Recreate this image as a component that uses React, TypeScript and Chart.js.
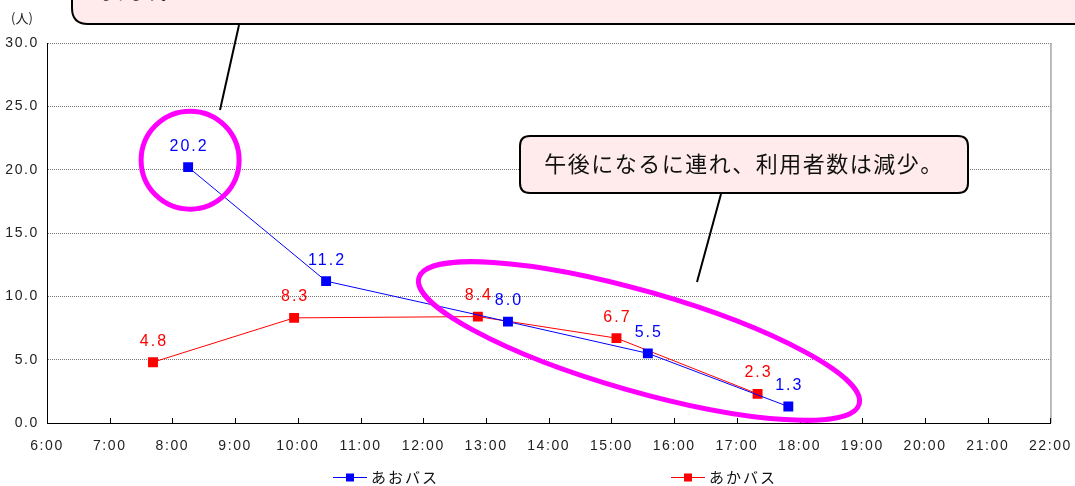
import React, { useEffect, useRef } from "react";
import { Chart, registerables } from "chart.js";

Chart.register(...registerables);

const seriesNames = ["あおバス", "あかバス"];
const blueTimes = [8.25, 10.45, 13.35, 15.58, 17.82];
const blueValues = [20.2, 11.2, 8.0, 5.5, 1.3];
const redTimes = [7.69, 9.94, 12.87, 15.08, 17.33];
const redValues = [4.8, 8.3, 8.4, 6.7, 2.3];
const yTickValues = [0, 5, 10, 15, 20, 25, 30];
const yUnitLabel = "(人)";
const calloutTop = "なります。";
const calloutBottom = "午後になるに連れ、利用者数は減少。";

const BLUE = "#0000FF";
const RED = "#FF0000";
const MAGENTA = "#FF00FF";
const PINK = "#FFEBEB";
const FONT = "'Liberation Sans', Arial, sans-serif";
const JFONT = "'Noto Sans CJK JP', 'Noto Sans', sans-serif";

function roundRect(ctx: CanvasRenderingContext2D, x: number, y: number, w: number, h: number, r: number) {
  ctx.beginPath();
  ctx.moveTo(x + r, y);
  ctx.lineTo(x + w - r, y);
  ctx.quadraticCurveTo(x + w, y, x + w, y + r);
  ctx.lineTo(x + w, y + h - r);
  ctx.quadraticCurveTo(x + w, y + h, x + w - r, y + h);
  ctx.lineTo(x + r, y + h);
  ctx.quadraticCurveTo(x, y + h, x, y + h - r);
  ctx.lineTo(x, y + r);
  ctx.quadraticCurveTo(x, y, x + r, y);
  ctx.closePath();
}

const spacingPlugin = {
  id: "spacing",
  beforeDraw(chart: any) {
    (chart.ctx as any).letterSpacing = "1.6px";
  },
};

const decorPlugin = {
  id: "decor",
  beforeDatasetsDraw(chart: any) {
    const { ctx, chartArea, scales } = chart;
    ctx.save();
    ctx.strokeStyle = "#777";
    ctx.lineWidth = 1;
    ctx.beginPath();
    ctx.moveTo(chartArea.right + 0.5, chartArea.top);
    ctx.lineTo(chartArea.right + 0.5, chartArea.bottom);
    ctx.stroke();
    ctx.strokeStyle = "#000";
    const xs = scales.x;
    for (let h = 6; h <= 22; h++) {
      const px = Math.round(xs.getPixelForValue(h)) + 0.5;
      ctx.beginPath();
      ctx.moveTo(px, chartArea.bottom);
      ctx.lineTo(px, chartArea.bottom - 5);
      ctx.stroke();
    }
    ctx.restore();
  },
  afterDatasetsDraw(chart: any) {
    const { ctx } = chart;
    ctx.save();
    (ctx as any).letterSpacing = "2px";
    chart.data.datasets.forEach((ds: any, i: number) => {
      const meta = chart.getDatasetMeta(i);
      ctx.fillStyle = ds.borderColor;
      ctx.font = `16px ${FONT}`;
      ctx.textAlign = "center";
      ctx.textBaseline = "middle";
      meta.data.forEach((pt: any, j: number) => {
        ctx.fillText(ds.data[j].y.toFixed(1), pt.x + 1, pt.y - 21);
      });
    });

    ctx.font = `15px ${JFONT}`;
    ctx.textAlign = "left";
    ctx.textBaseline = "middle";
    (ctx as any).letterSpacing = "2px";
    const legendX = [333, 671];
    const ly = 477;
    chart.data.datasets.forEach((ds: any, i: number) => {
      const lx = legendX[i];
      ctx.strokeStyle = ds.borderColor;
      ctx.lineWidth = 1;
      ctx.beginPath();
      ctx.moveTo(lx, ly + 0.5);
      ctx.lineTo(lx + 34, ly + 0.5);
      ctx.stroke();
      ctx.fillStyle = ds.borderColor;
      ctx.fillRect(lx + 13, ly - 3.5, 8, 8);
      ctx.fillStyle = "#111";
      ctx.fillText(ds.label, lx + 38, ly);
    });

    (ctx as any).letterSpacing = "0px";
    ctx.font = `13px ${JFONT}`;
    ctx.textAlign = "center";
    ctx.fillStyle = "#222";
    ctx.fillText(yUnitLabel, 22, 18);

    const blueMeta = chart.getDatasetMeta(0);
    const p0 = blueMeta.data[0];
    ctx.strokeStyle = MAGENTA;
    ctx.lineWidth = 5;
    ctx.beginPath();
    ctx.arc(p0.x + 2, p0.y - 7, 49, 0, Math.PI * 2);
    ctx.stroke();

    ctx.beginPath();
    ctx.ellipse(639, 341, 229, 50, (16 * Math.PI) / 180, 0, Math.PI * 2);
    ctx.stroke();

    ctx.lineWidth = 2;
    ctx.strokeStyle = "#000";
    ctx.fillStyle = PINK;
    roundRect(ctx, 72, -40, 1060, 64, 16);
    ctx.fill();
    ctx.stroke();
    ctx.beginPath();
    ctx.moveTo(239, 25);
    ctx.lineTo(220, 110);
    ctx.stroke();
    ctx.fillStyle = "#111";
    ctx.font = `bold 16px ${JFONT}`;
    ctx.textAlign = "left";
    ctx.textBaseline = "alphabetic";
    ctx.fillText(calloutTop, 98, -1);

    ctx.fillStyle = PINK;
    roundRect(ctx, 520, 136, 448, 57, 10);
    ctx.fill();
    ctx.stroke();
    ctx.beginPath();
    ctx.moveTo(721, 194);
    ctx.lineTo(697, 282);
    ctx.stroke();
    ctx.fillStyle = "#111";
    ctx.font = `22px ${JFONT}`;
    ctx.textAlign = "center";
    ctx.textBaseline = "middle";
    (ctx as any).letterSpacing = "1.5px";
    ctx.fillText(calloutBottom, 744, 164);
    ctx.restore();
  },
};

export default function App() {
  const ref = useRef<HTMLCanvasElement | null>(null);
  useEffect(() => {
    if (!ref.current) return;
    const chart = new Chart(ref.current, {
      type: "line",
      data: {
        datasets: [
          {
            label: seriesNames[0],
            data: blueTimes.map((t, i) => ({ x: t, y: blueValues[i] })),
            borderColor: BLUE,
            backgroundColor: BLUE,
            borderWidth: 1,
            pointStyle: "rect",
            pointRadius: 7,
            pointBorderWidth: 0,
            tension: 0,
          },
          {
            label: seriesNames[1],
            data: redTimes.map((t, i) => ({ x: t, y: redValues[i] })),
            borderColor: RED,
            backgroundColor: RED,
            borderWidth: 1,
            pointStyle: "rect",
            pointRadius: 7,
            pointBorderWidth: 0,
            tension: 0,
          },
        ],
      },
      options: {
        animation: false,
        responsive: false,
        maintainAspectRatio: false,
        layout: { padding: { top: 43, right: 24, left: 0, bottom: 0 } },
        plugins: { legend: { display: false }, tooltip: { enabled: false } },
        scales: {
          x: {
            type: "linear",
            min: 6,
            max: 22,
            afterFit: (s: any) => {
              s.height = 63;
            },
            afterBuildTicks: (s: any) => {
              const t = [];
              for (let h = 6; h <= 22; h++) t.push({ value: h });
              s.ticks = t;
            },
            ticks: {
              stepSize: 1,
              autoSkip: false,
              maxRotation: 0,
              padding: 7,
              color: "#222",
              font: { size: 14, family: FONT },
              callback: (v: any) => `${v}:00`,
            },
            grid: { display: false },
            border: { display: true, color: "#000", width: 1 },
          },
          y: {
            min: 0,
            max: 30,
            afterFit: (s: any) => {
              s.width = 47;
            },
            afterBuildTicks: (s: any) => {
              s.ticks = yTickValues.map((v) => ({ value: v }));
            },
            ticks: {
              padding: 8,
              color: "#222",
              font: { size: 14, family: FONT },
              callback: (v: any) => Number(v).toFixed(1),
            },
            grid: {
              color: (c: any) => (c.tick && c.tick.value === 0 ? "rgba(0,0,0,0)" : "#777"),
              lineWidth: 1,
              drawTicks: false,
            },
            border: { display: true, color: "#000", width: 1, dash: [1, 1] },
          },
        },
      },
      plugins: [spacingPlugin, decorPlugin],
    } as any);
    return () => chart.destroy();
  }, []);
  return (
    <div style={{ position: "fixed", left: 0, top: 0, width: 1075, height: 486, background: "#fff" }}>
      <canvas ref={ref} width={1075} height={486} style={{ width: 1075, height: 486, display: "block" }} />
    </div>
  );
}
